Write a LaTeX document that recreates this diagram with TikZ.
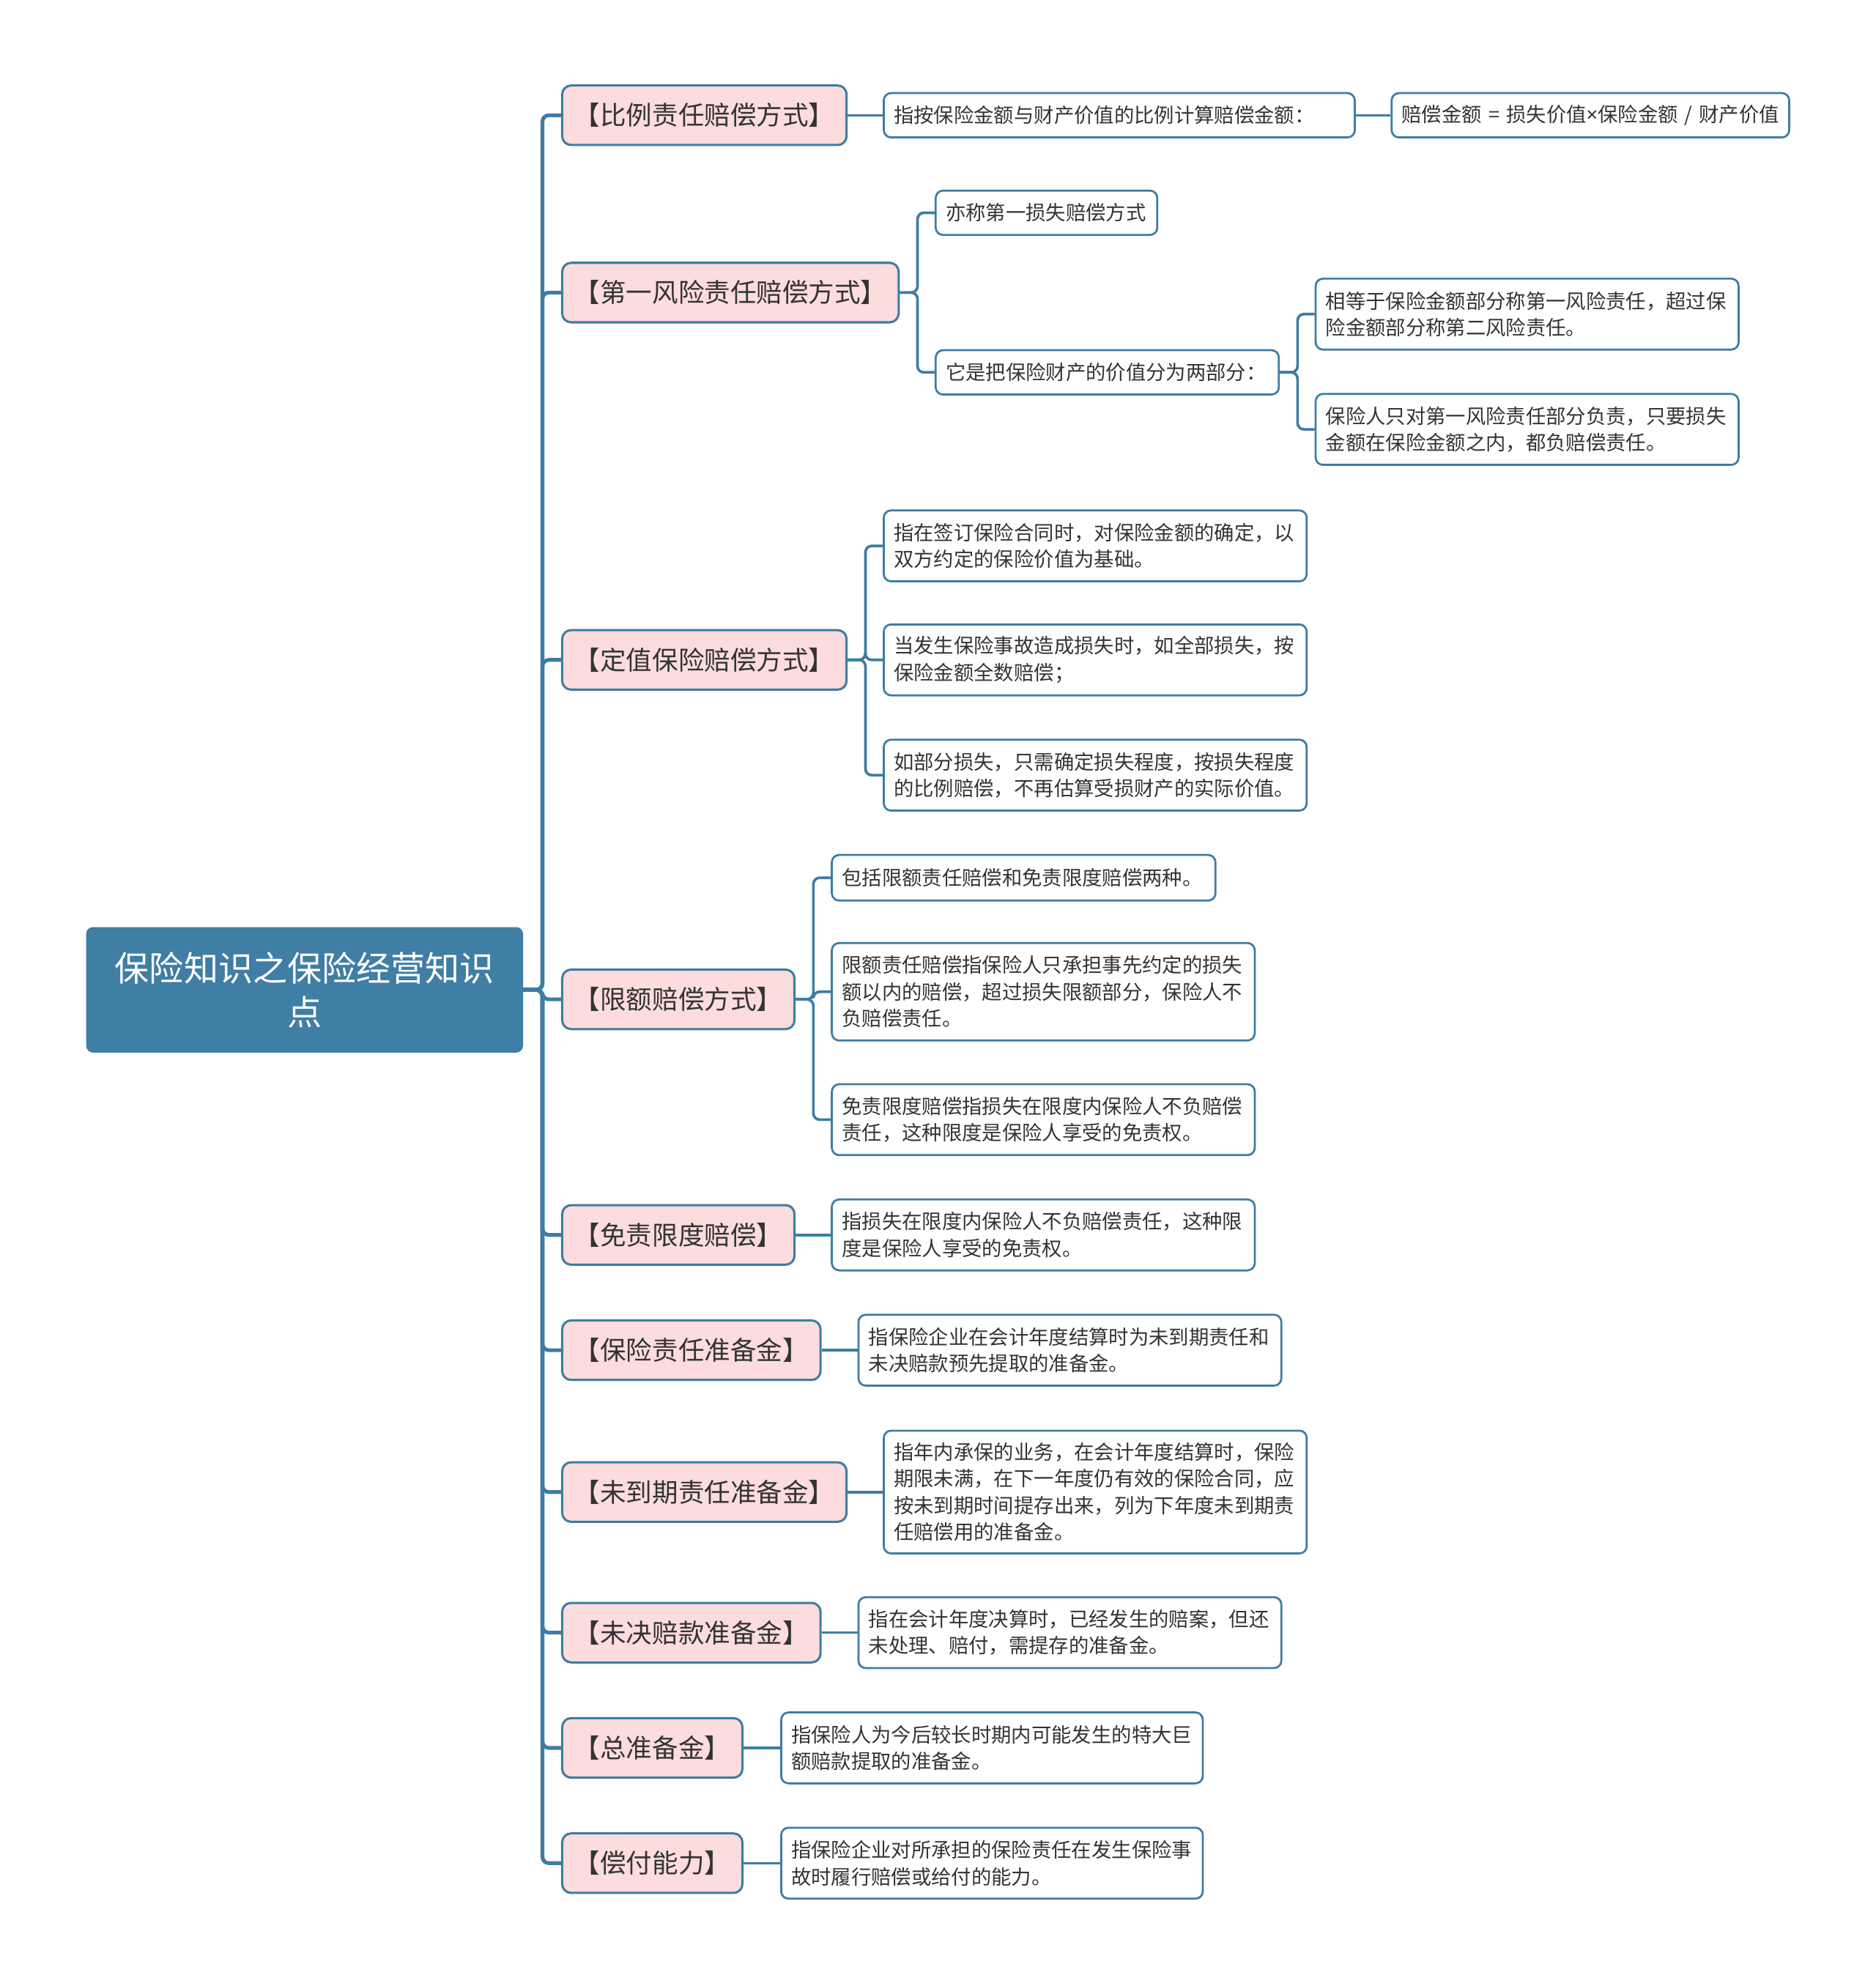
\documentclass[tikz,border=0pt]{standalone}
\usepackage{fontspec}
\setmainfont{Noto Sans CJK SC}
\newfontfamily\latinsans{Noto Sans}
\definecolor{linkblue}{HTML}{3E7CA3}
\definecolor{rootblue}{HTML}{3F7EA5}
\definecolor{topicpink}{HTML}{FCDCDC}
\definecolor{inkgray}{HTML}{333333}
\begin{document}
\begin{tikzpicture}[x=0.02cm,y=-0.02cm,
  rootbox/.style={fill=rootblue,rounded corners=3pt,text=white,align=center,
    minimum width=6.9cm,minimum height=1.98cm,inner sep=0pt,
    font=\fontsize{15.5}{19.9}\selectfont},
  topic/.style={draw=linkblue,line width=1pt,fill=topicpink,rounded corners=4pt,
    anchor=west,inner xsep=0.19cm,inner ysep=0pt,minimum height=0.94cm,
    text=inkgray,font=\fontsize{11.7}{14}\selectfont},
  leaf/.style={draw=linkblue,line width=0.9pt,fill=white,rounded corners=3.3pt,
    anchor=west,inner xsep=0.16cm,inner ysep=0pt,text width=#1,align=left,
    minimum height=1.12cm,text=inkgray,font=\fontsize{9}{12}\selectfont},
  leaf/.default=6.36cm,
  trunk/.style={draw=linkblue,line width=1.7pt,rounded corners=0.1cm},
  twig/.style={draw=linkblue,line width=1.2pt,rounded corners=0.1cm}]
  \useasboundingbox (0,0) rectangle (1481,1568);

  \node[rootbox] (root) at (240.5,781.5) {保险知识之保险经营知识\\点};

  \node[topic] (bl) at (443,91) {【比例责任赔偿方式】};
  \node[topic] (dy) at (443,231) {【第一风险责任赔偿方式】};
  \node[topic] (dz) at (443,521) {【定值保险赔偿方式】};
  \node[topic] (xe) at (443,789) {【限额赔偿方式】};
  \node[topic] (mz) at (443,975) {【免责限度赔偿】};
  \node[topic] (bz) at (443,1066) {【保险责任准备金】};
  \node[topic] (wd) at (443,1178) {【未到期责任准备金】};
  \node[topic] (wj) at (443,1289) {【未决赔款准备金】};
  \node[topic] (zz) at (443,1380) {【总准备金】};
  \node[topic] (cf) at (443,1471) {【偿付能力】};

  \node[leaf=7.12cm,minimum height=0.7cm] (bl1) at (697,91) {指按保险金额与财产价值的比例计算赔偿金额：};
  \node[leaf=5.96cm,minimum height=0.7cm] (bl2) at (1098,91) {\mbox{赔偿金额 = 损失价值{\latinsans ×}保险金额 / 财产价值}};

  \node[leaf=3.18cm,minimum height=0.7cm] (dy1) at (738,168) {亦称第一损失赔偿方式};
  \node[leaf=5.1cm,minimum height=0.7cm] (dy2) at (738,294) {它是把保险财产的价值分为两部分：};
  \node[leaf] (dy21) at (1038,248) {相等于保险金额部分称第一风险责任，超过保\\险金额部分称第二风险责任。};
  \node[leaf] (dy22) at (1038,339) {保险人只对第一风险责任部分负责，只要损失\\金额在保险金额之内，都负赔偿责任。};

  \node[leaf] (dz1) at (697,431) {指在签订保险合同时，对保险金额的确定，以\\双方约定的保险价值为基础。};
  \node[leaf] (dz2) at (697,521) {当发生保险事故造成损失时，如全部损失，按\\保险金额全数赔偿；};
  \node[leaf] (dz3) at (697,612) {如部分损失，只需确定损失程度，按损失程度\\的比例赔偿，不再估算受损财产的实际价值。};

  \node[leaf=5.74cm,minimum height=0.72cm] (xe1) at (656,693) {包括限额责任赔偿和免责限度赔偿两种。};
  \node[leaf,minimum height=1.54cm] (xe2) at (656,783) {限额责任赔偿指保险人只承担事先约定的损失\\额以内的赔偿，超过损失限额部分，保险人不\\负赔偿责任。};
  \node[leaf] (xe3) at (656,884) {免责限度赔偿指损失在限度内保险人不负赔偿\\责任，这种限度是保险人享受的免责权。};

  \node[leaf] (mz1) at (656,975) {指损失在限度内保险人不负赔偿责任，这种限\\度是保险人享受的免责权。};
  \node[leaf] (bz1) at (677,1066) {指保险企业在会计年度结算时为未到期责任和\\未决赔款预先提取的准备金。};
  \node[leaf,minimum height=1.94cm] (wd1) at (697,1178) {指年内承保的业务，在会计年度结算时，保险\\期限未满，在下一年度仍有效的保险合同，应\\按未到期时间提存出来，列为下年度未到期责\\任赔偿用的准备金。};
  \node[leaf] (wj1) at (677,1289) {指在会计年度决算时，已经发生的赔案，但还\\未处理、赔付，需提存的准备金。};
  \node[leaf=6.34cm] (zz1) at (616,1380) {指保险人为今后较长时期内可能发生的特大巨\\额赔款提取的准备金。};
  \node[leaf=6.34cm] (cf1) at (616,1471) {指保险企业对所承担的保险责任在发生保险事\\故时履行赔偿或给付的能力。};

  \foreach \t in {bl,dy,dz,xe,mz,bz,wd,wj,zz,cf}
    \draw[trunk] (root.east) -- ++(15,0) |- (\t.west);

  \foreach \l in {dy1,dy2}
    \draw[twig] (dy.east) -- ++(14,0) |- (\l.west);
  \foreach \l in {dy21,dy22}
    \draw[twig] (dy2.east) -- ++(14,0) |- (\l.west);
  \foreach \l in {dz1,dz2,dz3}
    \draw[twig] (dz.east) -- ++(14,0) |- (\l.west);
  \foreach \l in {xe1,xe2,xe3}
    \draw[twig] (xe.east) -- ++(14,0) |- (\l.west);

  \draw[twig] (bl.east) -- (bl1.west);
  \draw[twig] (bl1.east) -- (bl2.west);
  \draw[twig] (mz.east) -- (mz1.west);
  \draw[twig] (bz.east) -- (bz1.west);
  \draw[twig] (wd.east) -- (wd1.west);
  \draw[twig] (wj.east) -- (wj1.west);
  \draw[twig] (zz.east) -- (zz1.west);
  \draw[twig] (cf.east) -- (cf1.west);
\end{tikzpicture}
\end{document}
